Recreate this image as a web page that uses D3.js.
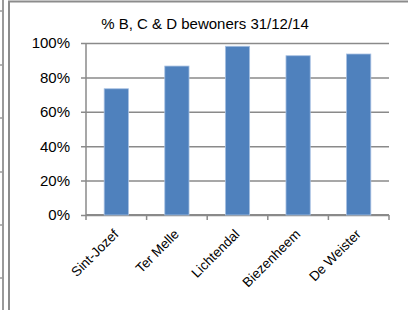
<!DOCTYPE html>
<html>
<head>
<meta charset="utf-8">
<script src="https://cdn.jsdelivr.net/npm/d3@7"></script>
<style>
    body { margin: 0; background: #fff; }
    #chart-area { width: 408px; height: 310px; overflow: hidden; }
    text { font-family: "Liberation Sans", Arial, sans-serif; fill: #000; }
</style>
</head>
<body>
<div id="chart-area"></div>
<script>

// data
var categories = ["Sint-Jozef", "Ter Melle", "Lichtendal", "Biezenheem", "De Weister"];
var values = [73.4, 86.6, 98.1, 92.6, 93.6];
var yTicks = [0, 20, 40, 60, 80, 100];
var chartTitle = "% B, C & D bewoners 31/12/14";


class BarChart {

    constructor (_parentElement, _categories, _values){
        this.parentElement = _parentElement;
        this.categories = _categories;
        this.values = _values;

        this.initVis();
    }

    initVis(){
        var vis = this;

        vis.margin = { top: 43, right: 19, bottom: 95, left: 86 };
        vis.width = 408 - vis.margin.left - vis.margin.right;
        vis.height = 310 - vis.margin.top - vis.margin.bottom;

        vis.root = d3.select("#" + vis.parentElement).append("svg")
            .attr("width", 408)
            .attr("height", 310);

        // spreadsheet cell edges on the left + chart frame
        vis.root.append("line")
            .attr("x1", 3).attr("x2", 3).attr("y1", 0).attr("y2", 310)
            .attr("stroke", "#9a9a9a").attr("stroke-width", 2);
        [11, 65, 118, 172, 225, 278].forEach(function(y){
            vis.root.append("line")
                .attr("x1", 0).attr("x2", 3).attr("y1", y).attr("y2", y)
                .attr("stroke", "#9a9a9a").attr("stroke-width", 1.5);
        });
        vis.root.append("rect")
            .attr("x", 9).attr("y", 1.5)
            .attr("width", 420).attr("height", 330)
            .attr("fill", "none")
            .attr("stroke", "#8c8c8c").attr("stroke-width", 2);

        vis.svg = vis.root.append("g")
            .attr("transform", "translate(" + vis.margin.left + "," + vis.margin.top + ")");

        // Scales and axes
        vis.x = d3.scaleBand()
            .range([0, vis.width])
            .paddingInner(0.6)
            .paddingOuter(0.3);

        vis.y = d3.scaleLinear()
            .range([vis.height, 0]);

        vis.yAxis = d3.axisLeft()
            .scale(vis.y)
            .tickValues(yTicks)
            .tickSizeInner(-vis.width)
            .tickSizeOuter(0)
            .tickPadding(16)
            .tickFormat(d => d + "%");

        vis.svg.append("g")
            .attr("class", "y-axis axis");

        vis.svg.append("g")
            .attr("class", "x-axis axis")
            .attr("transform", "translate(0," + vis.height + ")");

        // title
        vis.root.append("text")
            .attr("x", 205)
            .attr("y", 29)
            .attr("text-anchor", "middle")
            .style("font-size", "15px")
            .text(chartTitle);

        vis.wrangleData();
    }

    wrangleData(){
        var vis = this;
        vis.displayData = vis.categories.map(function(c, i){
            return { name: c, value: vis.values[i] };
        });
        vis.updateVis();
    }

    updateVis(){
        var vis = this;

        vis.y.domain([0, 100]);
        vis.x.domain(vis.displayData.map(d => d.name));

        // y axis with gridlines
        var yg = vis.svg.select(".y-axis").call(vis.yAxis);
        yg.select(".domain").remove();
        yg.selectAll(".tick line")
            .attr("x1", -5)
            .attr("stroke", "#8a8a8a")
            .attr("stroke-width", 1.5);
        yg.selectAll(".tick text")
            .style("font-size", "15px")
            .attr("fill", "#000");

        // vertical axis line
        vis.svg.append("line")
            .attr("x1", 0).attr("x2", 0)
            .attr("y1", 0).attr("y2", vis.height)
            .attr("stroke", "#8a8a8a").attr("stroke-width", 1.5);

        // bars
        var bars = vis.svg.selectAll(".bar")
            .data(vis.displayData);

        bars.enter().append("rect")
            .attr("class", "bar")
            .merge(bars)
            .attr("x", d => vis.x(d.name))
            .attr("width", vis.x.bandwidth())
            .attr("y", d => vis.y(d.value))
            .attr("height", d => vis.height - vis.y(d.value))
            .attr("fill", "#4f81bd")
            .attr("stroke", "#a7c0e2")
            .attr("stroke-width", 0.8);

        bars.exit().remove();

        // x axis: line, category boundary ticks, rotated labels
        var xg = vis.svg.select(".x-axis");
        var step = vis.x.step();
        var half = step * vis.x.paddingInner() / 2;
        var bounds = vis.displayData.map(d => vis.x(d.name) - half);
        bounds.push(vis.width);

        xg.append("line")
            .attr("x1", 0).attr("x2", vis.width)
            .attr("y1", 0).attr("y2", 0)
            .attr("stroke", "#8a8a8a").attr("stroke-width", 2);

        xg.selectAll(".xtick")
            .data(bounds)
            .enter().append("line")
            .attr("class", "xtick")
            .attr("x1", d => d).attr("x2", d => d)
            .attr("y1", 0).attr("y2", 5)
            .attr("stroke", "#8a8a8a").attr("stroke-width", 1.5);

        xg.selectAll(".xlabel")
            .data(vis.displayData)
            .enter().append("text")
            .attr("class", "xlabel")
            .style("font-size", "13.5px")
            .style("text-anchor", "end")
            .attr("transform", d => "translate(" + (vis.x(d.name) + vis.x.bandwidth() / 2 + 3) + ",20) rotate(-45)")
            .text(d => d.name);
    }
}

var barChart = new BarChart("chart-area", categories, values);

</script>
</body>
</html>
